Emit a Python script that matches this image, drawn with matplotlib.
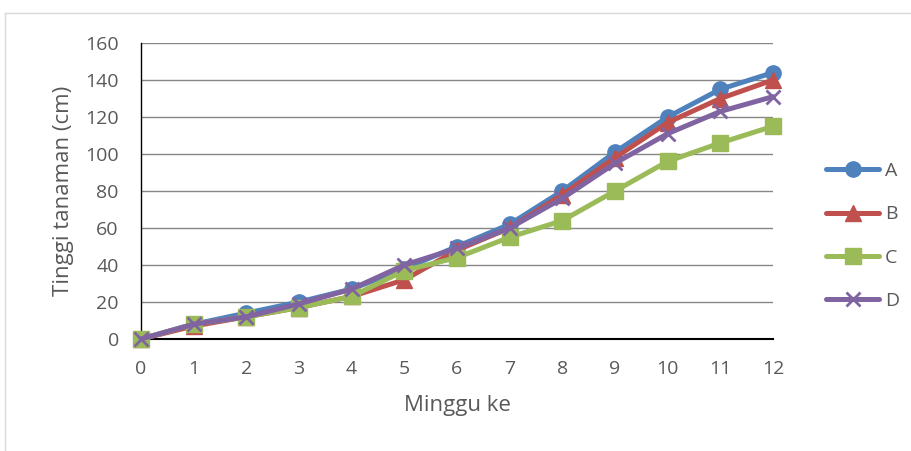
import matplotlib
matplotlib.use("Agg")
import matplotlib.pyplot as plt
from matplotlib.lines import Line2D

weeks = list(range(13))
A = [0, 8, 14, 20, 27, 38, 50, 62, 80, 101, 120, 135, 144]
B = [0, 7, 12, 17, 23, 32, 48, 60, 78, 98, 117, 130, 140]
C = [0, 8, 12, 17, 23, 37, 44, 55, 64, 80, 96, 106, 115]
D = [0, 8, 12, 19, 27, 40, 49, 60, 76, 95, 111, 123, 131]
names = ["A", "B", "C", "D"]
colors = ["#4F81BD", "#C0504D", "#9BBB59", "#8064A2"]
markers = ["o", "^", "s", "x"]
yticks = [0, 20, 40, 60, 80, 100, 120, 140, 160]

plt.rcParams['font.family'] = ['Open Sans', 'DejaVu Sans']
fig = plt.figure(figsize=(9.12, 4.51), dpi=100)
W, H = 912, 451
# chart frame (only top and left edges visible)
fig.add_artist(Line2D([5/W, 5/W], [0, 1 - 13/H], transform=fig.transFigure,
                      color="#D9D9D9", linewidth=1))
fig.add_artist(Line2D([5/W, 1], [1 - 13/H, 1 - 13/H], transform=fig.transFigure,
                      color="#D9D9D9", linewidth=1))
ax = fig.add_axes([141/W, 1 - 339/H, (773-141)/W, (339-43)/H])
series = [A, B, C, D]
handles = []
for s, n, c, m in zip(series, names, colors, markers):
    ms = 11 if m != "x" else 10
    mew = 1 if m != "x" else 2
    h, = ax.plot(weeks, s, color=c, linewidth=3.6, marker=m, markersize=ms,
                 markeredgewidth=mew, markeredgecolor=c, markerfacecolor=c,
                 solid_capstyle='round', label=n, clip_on=False, zorder=3)
    handles.append(h)
ax.set_xlim(0, 12)
ax.set_ylim(0, 160)
ax.set_yticks(yticks)
ax.set_xticks(weeks)
ax.grid(axis='y', color="#868686", linewidth=1)
ax.set_axisbelow(True)
for sp in ["top", "right"]:
    ax.spines[sp].set_visible(False)
ax.spines["left"].set_color("black")
ax.spines["bottom"].set_color("black")
ax.spines["left"].set_linewidth(1)
ax.spines["bottom"].set_linewidth(1.5)
ax.tick_params(axis='both', length=0, labelsize=14, colors="#595959")
ax.tick_params(axis='x', pad=15)
ax.tick_params(axis='y', pad=16)
ax.set_xlabel("Minggu ke", fontsize=16, color="#595959", labelpad=12)
ax.set_ylabel("Tinggi tanaman (cm)", fontsize=16, color="#595959", labelpad=8)
leg = fig.legend(handles=handles, loc="center left", bbox_to_anchor=(809/W, 1 - 236/H),
                 frameon=False, fontsize=14, labelspacing=1.3, handlelength=2.7,
                 handletextpad=0.3, labelcolor="#595959")
fig.savefig("out.png", dpi=100)
